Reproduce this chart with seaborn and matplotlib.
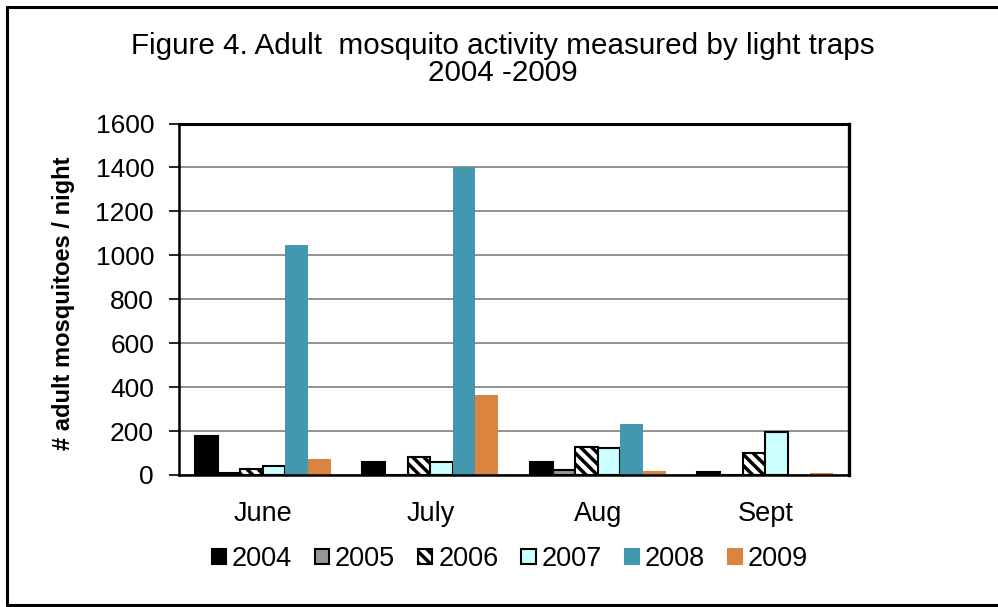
import matplotlib
matplotlib.use("Agg")
import matplotlib.pyplot as plt
import matplotlib.patches as mpatches
from matplotlib.lines import Line2D
import seaborn as sns
import pandas as pd

# Monthly averages of adult mosquitoes per trap-night
months = ["June", "July", "Aug", "Sept"]
years = ["2004", "2005", "2006", "2007", "2008", "2009"]
y2004 = [178, 57, 61, 15]
y2005 = [8, -5, 21, 0]
y2006 = [28, 82, 129, 99]
y2007 = [40, 61, 122, 195]
y2008 = [1045, 1400, 231, 2]
y2009 = [74, 365, 20, 10]
yticks = [0, 200, 400, 600, 800, 1000, 1200, 1400, 1600]

series = [y2004, y2005, y2006, y2007, y2008, y2009]
colors = ["#000000", "#969696", "#FFFFFF", "#CCFFFF", "#4398B0", "#DB843F"]
edges = ["#000000", "#000000", "#000000", "#000000", "none", "none"]
hatches = [None, None, "\\\\\\", None, None, None]

df = pd.DataFrame(
    [(m, yr, vals[i]) for yr, vals in zip(years, series) for i, m in enumerate(months)],
    columns=["month", "year", "count"],
)

sns.set_theme(style="white")
plt.rcParams["font.family"] = ["Liberation Sans", "DejaVu Sans"]
plt.rcParams["hatch.linewidth"] = 2.5
plt.rcParams["text.color"] = "black"
plt.rcParams["xtick.color"] = "black"
plt.rcParams["ytick.color"] = "black"
plt.rcParams["axes.labelcolor"] = "black"

fig = plt.figure(figsize=(9.98, 6.07), dpi=100)
ax = fig.add_axes([0.1794, 0.2175, 0.6713, 0.579])

sns.barplot(
    data=df, x="month", y="count", hue="year", order=months, hue_order=years,
    palette=colors, width=0.81, ax=ax, legend=False, saturation=1.0,
)

for cont, ec, h in zip(ax.containers, edges, hatches):
    for bar in cont:
        bar.set_edgecolor(ec)
        bar.set_linewidth(1.5 if ec != "none" else 0)
        if h:
            bar.set_hatch(h)

ax.set_ylim(0, 1600)
ax.set_xlim(-0.5, 3.5)
ax.set_yticks(yticks)
ax.set_yticklabels([str(t) for t in yticks], fontsize=19)
ax.tick_params(axis="y", which="both", left=True, length=7, width=1.2,
               direction="out", color="black", pad=11)
ax.tick_params(axis="x", length=0, labelsize=19.5, pad=19)
ax.set_xlabel("")
ax.set_ylabel("# adult mosquitoes / night", fontsize=17, fontweight="bold")
ax.yaxis.set_label_coords(-0.156, 0.49)

ax.yaxis.grid(True, color="#7F7F7F", linewidth=1.2)
ax.set_axisbelow(True)
for side, lw in [("left", 1.8), ("top", 2.2), ("right", 2.4), ("bottom", 1.8)]:
    ax.spines[side].set_visible(True)
    ax.spines[side].set_color("black")
    ax.spines[side].set_linewidth(lw)

handles = [
    mpatches.Patch(facecolor=c, edgecolor=(e if e != "none" else c),
                   linewidth=1.5, hatch=h, label=y)
    for c, e, h, y in zip(colors, edges, hatches, years)
]
fig.legend(handles=handles, loc="center", bbox_to_anchor=(0.511, 0.079), ncol=6,
           frameon=False, fontsize=19.5, handlelength=0.52, handleheight=0.52,
           handletextpad=0.22, columnspacing=0.85)

fig.text(0.504, 0.925, "Figure 4. Adult  mosquito activity measured by light traps",
         ha="center", va="center", fontsize=21.3)
fig.text(0.504, 0.879, "2004 -2009", ha="center", va="center", fontsize=21.3)

# Frame around the chart: left, top and bottom edges
frame = dict(transform=fig.transFigure, color="black", linewidth=2.2, clip_on=False)
x0, y0, y1 = 7 / 998, 1 - 605 / 607, 1 - 7 / 607
fig.add_artist(Line2D([x0, x0], [y0, y1], **frame))
fig.add_artist(Line2D([x0, 1.0], [y1, y1], **frame))
fig.add_artist(Line2D([x0, 1.0], [y0, y0], **frame))

fig.savefig("out.png", dpi=100, facecolor="white")
